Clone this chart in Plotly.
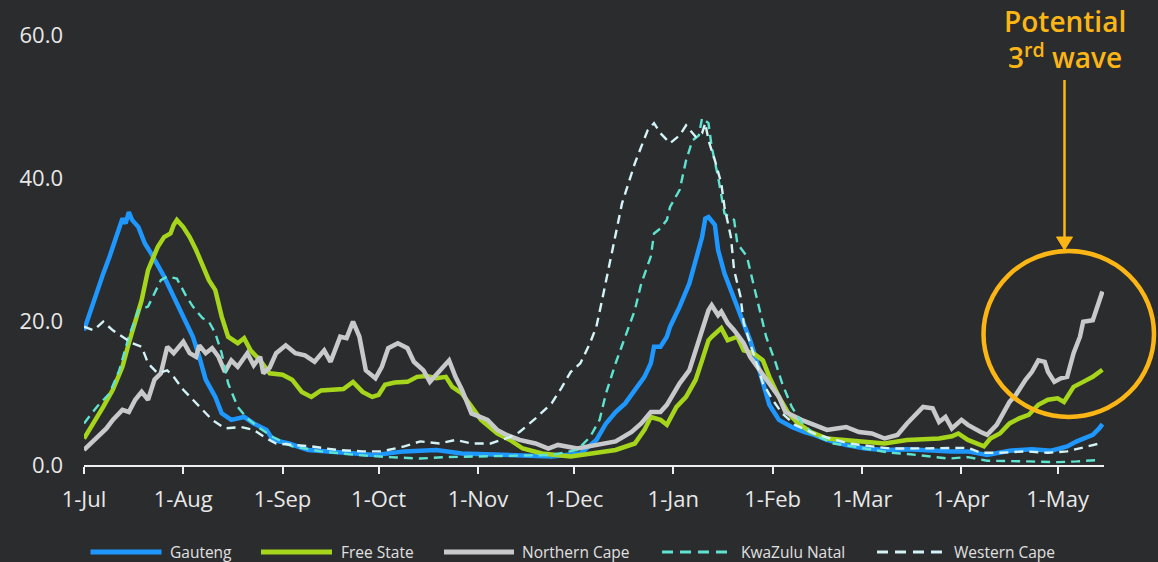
import pandas as pd
import plotly.graph_objects as go

START = pd.Timestamp("2020-07-01")

# days since 1-Jul-2020 and values (7-day rolling rates)
gauteng_day = [0, 2, 4, 6, 8, 10, 12, 13, 14, 15, 17, 19, 21, 25, 28, 31, 34, 36, 38, 41, 43, 46, 50, 53, 57, 59,
               64, 70, 77, 85, 91, 100, 110, 118, 129, 139, 146, 155, 160, 163, 166, 169, 172, 175, 177, 178, 180,
               182, 183, 186, 189, 191, 193, 194, 195, 197, 198, 200, 202, 204, 206, 208, 210, 212, 214, 217, 221,
               225, 228, 232, 238, 244, 250, 257, 265, 271, 276, 280, 282, 289, 296, 302, 307, 310, 313, 315, 317, 318]
gauteng_val = [18.8, 21.6, 24.4, 26.7, 29.1, 31.8, 34.4, 33.7, 35.3, 34.2, 33.2, 30.9, 29.5, 26.3, 23.5, 20.7, 17.9,
               15.1, 11.9, 9.5, 7.2, 6.3, 6.7, 5.8, 4.9, 3.5, 3.0, 2.1, 1.9, 1.6, 1.4, 1.9, 2.1, 1.6, 1.4, 1.2, 1.2,
               1.6, 3.5, 5.8, 7.4, 8.6, 10.5, 12.3, 14.2, 16.5, 16.5, 17.9, 19.3, 22.1, 25.3, 28.6, 31.8, 34.4, 34.6,
               33.5, 30.0, 26.7, 24.4, 22.1, 19.8, 17.4, 14.6, 11.4, 8.4, 6.3, 5.3, 4.6, 4.2, 3.5, 2.8, 2.3, 2.1, 2.2,
               2.0, 1.9, 1.9, 1.6, 1.4, 2.0, 2.2, 2.0, 2.6, 3.3, 3.9, 4.2, 5.1, 5.7]

free_state_day = [0, 3, 6, 9, 12, 14, 16, 18, 20, 23, 25, 27, 28, 29, 31, 33, 35, 37, 39, 41, 43, 45, 48, 50, 52, 55,
                  58, 62, 65, 68, 71, 74, 78, 81, 84, 87, 90, 92, 94, 97, 101, 104, 107, 110, 113, 115, 118, 121, 124,
                  129, 133, 137, 140, 143, 152, 159, 166, 172, 175, 177, 180, 182, 185, 188, 191, 193, 195, 196, 199,
                  201, 204, 206, 209, 212, 214, 217, 220, 223, 227, 232, 238, 244, 250, 257, 262, 267, 271, 273, 276,
                  279, 281, 283, 286, 289, 292, 295, 298, 301, 304, 306, 309, 312, 315, 318]
free_state_val = [3.7, 5.8, 8.1, 10.5, 13.7, 17.0, 19.8, 23.0, 27.2, 30.4, 31.8, 32.3, 33.5, 34.2, 33.2, 31.8, 30.0,
                  27.7, 25.8, 24.4, 20.7, 17.9, 17.0, 17.7, 16.0, 14.6, 12.8, 12.6, 11.9, 10.2, 9.5, 10.4, 10.6, 10.6,
                  11.6, 10.2, 9.5, 9.8, 11.2, 11.5, 11.6, 12.3, 12.4, 12.1, 12.3, 10.9, 10.0, 8.1, 6.3, 4.4, 3.5, 2.3,
                  1.9, 1.6, 1.2, 1.6, 2.1, 3.0, 4.9, 6.7, 6.3, 5.6, 8.1, 9.5, 11.9, 14.6, 17.4, 17.9, 19.1, 17.4, 17.9,
                  16.0, 15.6, 14.6, 12.3, 9.5, 7.2, 5.8, 4.6, 3.7, 3.5, 3.3, 3.0, 3.5, 3.6, 3.7, 4.0, 4.4, 3.5, 3.0,
                  2.6, 3.7, 4.4, 5.8, 6.5, 7.0, 8.4, 9.1, 9.3, 8.8, 10.9, 11.6, 12.3, 13.3]

northern_cape_day = [0, 4, 7, 9, 12, 14, 16, 18, 20, 22, 24, 26, 28, 31, 33, 35, 36, 38, 40, 42, 44, 46, 48, 51, 53,
                     55, 56, 58, 60, 63, 66, 69, 72, 75, 77, 80, 82, 84, 86, 88, 91, 93, 95, 98, 101, 103, 106, 108,
                     111, 114, 116, 118, 121, 126, 129, 132, 136, 141, 145, 148, 154, 160, 166, 171, 174, 177, 180,
                     182, 186, 189, 191, 193, 195, 196, 198, 199, 201, 203, 206, 208, 211, 214, 217, 219, 222, 224,
                     228, 232, 235, 238, 242, 246, 250, 254, 257, 259, 262, 265, 267, 269, 271, 274, 276, 280, 282,
                     285, 287, 289, 291, 294, 296, 298, 300, 301, 303, 305, 307, 309, 311, 312, 315, 316, 317, 318]
northern_cape_val = [2.1, 3.9, 5.1, 6.3, 7.7, 7.4, 9.1, 10.2, 9.1, 11.9, 12.8, 16.5, 15.6, 17.2, 15.6, 15.1, 16.7,
                     15.6, 16.3, 15.1, 13.0, 14.6, 13.7, 15.6, 13.9, 15.1, 12.8, 13.6, 15.6, 16.7, 15.6, 15.3, 14.4,
                     16.0, 14.4, 17.9, 17.7, 20.0, 17.9, 13.2, 12.1, 13.7, 16.3, 17.0, 16.3, 14.4, 13.2, 11.6, 13.2,
                     14.6, 12.3, 10.5, 7.2, 6.3, 4.9, 4.2, 3.5, 3.0, 2.3, 2.8, 2.3, 2.8, 3.3, 4.6, 5.8, 7.4, 7.4, 8.4,
                     11.4, 13.2, 16.0, 18.8, 21.6, 22.3, 20.9, 21.4, 19.8, 18.8, 17.0, 15.1, 13.2, 11.4, 9.5, 7.4, 6.7,
                     6.3, 5.6, 4.9, 5.1, 5.3, 4.6, 4.4, 3.7, 4.2, 5.8, 6.7, 8.1, 7.9, 6.0, 6.7, 5.1, 6.3, 5.6, 4.6,
                     4.2, 5.6, 7.2, 8.8, 9.8, 11.9, 13.0, 14.6, 14.4, 13.0, 11.6, 12.1, 12.3, 15.6, 17.9, 20.0, 20.2,
                     21.6, 22.5, 24.2]

kwazulu_natal_day = [0, 4, 8, 11, 14, 17, 20, 24, 26, 29, 32, 34, 37, 39, 41, 43, 45, 48, 51, 55, 59, 65, 74, 85, 95,
                     105, 113, 125, 137, 146, 154, 158, 161, 163, 166, 169, 172, 174, 177, 178, 180, 182, 183, 186,
                     188, 190, 192, 193, 195, 196, 198, 200, 203, 204, 207, 209, 211, 213, 216, 218, 221, 224, 228,
                     234, 240, 246, 252, 258, 265, 270, 276, 282, 295, 304, 310, 317]
kwazulu_natal_val = [5.8, 8.1, 10.0, 13.2, 17.9, 21.6, 22.1, 25.8, 26.3, 26.0, 23.5, 22.1, 20.5, 20.0, 18.4, 15.6,
                     11.4, 8.1, 6.5, 5.1, 3.9, 2.6, 1.9, 1.4, 1.1, 0.9, 1.1, 1.2, 1.3, 1.4, 2.1, 3.9, 6.3, 10.0, 14.2,
                     17.9, 21.6, 25.3, 29.1, 32.3, 33.0, 34.2, 36.0, 38.4, 42.5, 45.3, 46.0, 48.4, 47.7, 44.4, 40.2,
                     35.1, 34.2, 30.9, 29.1, 25.3, 21.6, 17.9, 14.2, 11.4, 8.1, 6.0, 4.2, 3.0, 2.6, 2.1, 1.7, 1.5, 1.2,
                     0.9, 1.1, 0.6, 0.5, 0.4, 0.5, 0.7]

western_cape_day = [0, 3, 6, 9, 12, 15, 18, 20, 23, 26, 28, 31, 34, 37, 40, 44, 49, 53, 57, 60, 66, 71, 79, 87, 93,
                    100, 105, 111, 116, 121, 127, 133, 136, 141, 146, 149, 152, 155, 158, 160, 162, 164, 166, 168,
                    170, 172, 174, 176, 178, 180, 183, 186, 188, 191, 193, 194, 195, 197, 199, 200, 202, 203, 205,
                    206, 208, 210, 212, 215, 218, 222, 228, 233, 239, 246, 252, 258, 265, 271, 276, 280, 286, 294,
                    301, 307, 313, 318]
western_cape_val = [19.3, 18.8, 20.0, 18.8, 17.9, 17.0, 16.5, 14.2, 12.8, 13.2, 12.3, 10.5, 9.1, 7.7, 6.3, 5.1, 5.3,
                    4.9, 3.7, 3.0, 2.8, 2.6, 2.1, 1.9, 1.9, 2.6, 3.3, 3.0, 3.5, 3.0, 3.0, 3.9, 4.6, 6.5, 8.6, 10.7,
                    13.0, 14.2, 17.0, 19.3, 23.5, 27.7, 31.8, 36.5, 39.3, 42.1, 44.4, 46.7, 47.7, 46.3, 44.9, 46.0,
                    47.4, 45.8, 46.3, 47.7, 45.3, 42.5, 39.3, 36.0, 31.8, 27.2, 23.5, 19.8, 17.0, 14.2, 11.4, 9.1,
                    7.2, 5.6, 4.4, 3.7, 3.0, 2.6, 2.3, 2.3, 2.3, 2.3, 2.4, 1.7, 1.7, 1.9, 1.7, 1.9, 2.6, 3.1]

series_names = ["Gauteng", "Free State", "Northern Cape", "KwaZulu Natal", "Western Cape"]
y_ticks = [0, 20, 40, 60]
annotation_text = "Potential<br>3<sup>rd</sup> wave"

BG = "#2b2c2e"
ORANGE = "#fbb616"
colors = ["#1e98ff", "#a6d61b", "#c8c9ca", "#5ee3d0", "#d4f3f7"]
widths = [4.5, 4.5, 4.5, 2.4, 2.4]
dashes = ["solid", "solid", "solid", "9px,6px", "9px,6px"]

series = [
    (gauteng_day, gauteng_val),
    (free_state_day, free_state_val),
    (northern_cape_day, northern_cape_val),
    (kwazulu_natal_day, kwazulu_natal_val),
    (western_cape_day, western_cape_val),
]

fig = go.Figure()
for name, (d, v), c, w, ds in zip(series_names, series, colors, widths, dashes):
    x = START + pd.to_timedelta(d, unit="D")
    fig.add_trace(go.Scatter(x=x, y=v, mode="lines", name=name, showlegend=False, hoverinfo="skip",
                             line=dict(color=c, width=w, dash=ds)))

W, H = 1158, 562
ML, MR, MT, MB = 84, 54, 35, 97
PW, PH = W - ML - MR, H - MT - MB


def px(xp):
    return (xp - ML) / PW


def py(yp):
    return (H - MB - yp) / PH


shapes = []
annotations = []

# manual legend
leg_y = 552
leg_lines = [(90.5, 161.5), (261, 332), (444, 514), (662, 728), (877, 943)]
leg_text_x = [167.5, 338.5, 520, 738.5, 952]
for (x0, x1), tx, name, c, ds in zip(leg_lines, leg_text_x, series_names, colors, dashes):
    shapes.append(dict(type="line", xref="paper", yref="paper", x0=px(x0), x1=px(x1), y0=py(leg_y), y1=py(leg_y),
                       line=dict(color=c, width=5 if ds == "solid" else 3,
                                 dash="solid" if ds == "solid" else "11px,7px")))
    annotations.append(dict(xref="paper", yref="paper", x=px(tx), y=py(leg_y), text=name, showarrow=False,
                            xanchor="left", yanchor="middle", font=dict(size=15.5, color="#e0e0e0")))

# circle highlight
shapes.append(dict(type="circle", xref="paper", yref="paper", x0=px(983.5), x1=px(1154), y0=py(417), y1=py(251),
                   line=dict(color=ORANGE, width=4.5)))

# arrow: shaft + head
ax_x = 1064.5
shapes.append(dict(type="line", xref="paper", yref="paper", x0=px(ax_x), x1=px(ax_x), y0=py(80), y1=py(240),
                   line=dict(color=ORANGE, width=2.5)))
shapes.append(dict(type="path", xref="paper", yref="paper",
                   path="M {a},{b} L {c},{d} L {e},{f} Z".format(a=px(ax_x - 8), b=py(237), c=px(ax_x + 8), d=py(237),
                                                               e=px(ax_x), f=py(250)),
                   fillcolor=ORANGE, line=dict(color=ORANGE, width=1)))

# label
annotations.append(dict(xref="paper", yref="paper", x=px(1065), y=py(39), text=annotation_text, showarrow=False,
                        xanchor="center", yanchor="middle", align="center",
                        font=dict(size=28, color=ORANGE, weight=600)))

fig.update_layout(
    width=W, height=H,
    margin=dict(l=ML, r=MR, t=MT, b=MB),
    paper_bgcolor=BG, plot_bgcolor=BG,
    font=dict(family="Open Sans", color="#e6e6e6"),
    showlegend=False,
    hovermode=False,
    shapes=shapes,
    annotations=annotations,
    xaxis=dict(type="date", range=[START, START + pd.Timedelta(days=318.5)],
               tick0=START, dtick="M1", tickformat="%-d-%b",
               showgrid=False, zeroline=False, showline=True, linecolor="#f0f0f0", linewidth=2,
               ticks="outside", ticklen=7, tickwidth=2, tickcolor="#f0f0f0",
               tickfont=dict(size=22, color="#e8e8e8"), ticklabelstandoff=7),
    yaxis=dict(range=[0, 60], tickvals=y_ticks, tickformat=".1f", showgrid=False, zeroline=False,
               showline=False, ticks="", tickfont=dict(size=22, color="#e8e8e8"), ticklabelstandoff=20),
)

fig.write_html("out.html", config={"displayModeBar": False},
               post_script="document.body.style.margin='0';document.body.style.overflow='hidden';")
